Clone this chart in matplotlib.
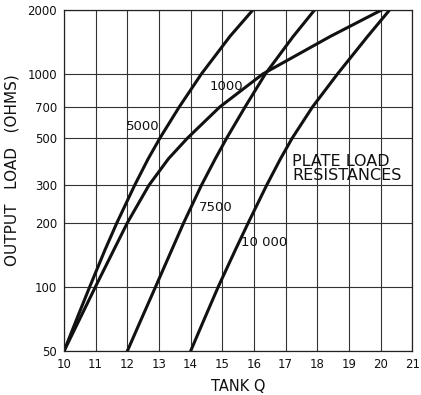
import numpy as np
import matplotlib
matplotlib.use("Agg")
import matplotlib.pyplot as plt

# Plate load resistance curves: output load (ohms) vs tank Q
load = [50, 70, 100, 150, 200, 300, 400, 500, 700, 1000, 1500, 2000]
q_5000 = [10.0, 10.39, 10.81, 11.30, 11.67, 12.23, 12.66, 13.03, 13.64, 14.34, 15.24, 15.97]
q_1000 = [10.0, 10.48, 10.99, 11.58, 12.0, 12.68, 13.30, 13.90, 14.92, 16.28, 18.41, 20.04]
q_7500 = [12.0, 12.43, 12.89, 13.41, 13.78, 14.34, 14.78, 15.14, 15.72, 16.36, 17.24, 17.92]
q_10000 = [14.0, 14.42, 14.87, 15.42, 15.82, 16.40, 16.84, 17.21, 17.85, 18.64, 19.59, 20.29]

x_ticks = list(range(10, 22))
y_ticks = [50, 100, 200, 300, 500, 700, 1000, 2000]

fig = plt.figure(figsize=(4.21, 3.95), dpi=100)
ax = fig.add_axes([0.152, 0.111, 0.827, 0.864])

ax.set_yscale("log")
ax.set_xlim(10, 21)
ax.set_ylim(50, 2000)
ax.set_xticks(x_ticks)
ax.set_xticklabels([str(t) for t in x_ticks])
ax.set_yticks(y_ticks)
ax.set_yticklabels([str(t) for t in y_ticks])
ax.yaxis.set_minor_locator(matplotlib.ticker.NullLocator())
ax.tick_params(length=0, labelsize=8.5, pad=5, colors="#111111")
ax.grid(True, color="#333333", lw=0.8)
for s in ax.spines.values():
    s.set_linewidth(0.9)
    s.set_color("#222222")

for q in (q_5000, q_1000, q_7500, q_10000):
    ax.plot(q, load, color="#111111", lw=2.2, solid_capstyle="round")

lbl = dict(fontsize=9.5, color="#111111", ha="center", va="center")
ax.text(12.48, 565, "5000", **lbl)
ax.text(15.13, 869, "1000", **lbl)
ax.text(14.8, 235, "7500", **lbl)
ax.text(16.31, 161, "10 000", **lbl)
ax.text(17.2, 360, "PLATE LOAD\nRESISTANCES", fontsize=11.5, color="#111111",
        ha="left", va="center", linespacing=0.95)

ax.set_xlabel("TANK Q", fontsize=10.5, labelpad=6, color="#111111")
ax.set_ylabel("OUTPUT   LOAD   (OHMS)", fontsize=11, color="#111111")
ax.yaxis.set_label_coords(-0.127, 0.53)

fig.savefig("out.png", dpi=100)
